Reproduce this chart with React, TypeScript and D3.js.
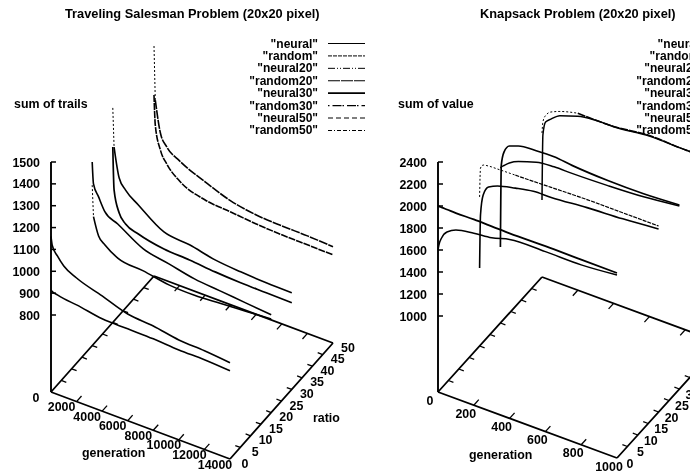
import React from "react";
import * as d3 from "d3";

// ---------- Data: Traveling Salesman Problem ----------
const tspGenerations = [0, 100, 500, 1000, 2000, 4000, 6000, 8000, 10000, 12000, 14000];
const tspNeural = [914, 909, 903, 897, 890, 870, 868, 866, 859, 858, 851];
const tspRandom = [1160, 1120, 1081, 1046, 1013, 975, 936, 925, 905, 899, 888];
const tspNeural20 = [1182, 1040, 960, 930, 892, 877, 857, 853, 860, 868, 876];
const tspRandom20 = [1288, 1190, 1139, 1081, 1048, 978, 953, 928, 917, 906, 895];
const tspNeural30 = [1250, 1056, 959, 920, 896, 871, 865, 854, 848, 846, 844];
const tspRandom30 = [1429, 1252, 1119, 1075, 1029, 949, 934, 909, 898, 892, 890];
const tspNeural50 = [1276, 1141, 1035, 982, 926, 883, 872, 861, 855, 853, 851];
const tspRandom50 = [1500, 1255, 1113, 1060, 1018, 966, 923, 902, 896, 894, 888];

// ---------- Data: Knapsack Problem ----------
const kspGenerations = [0, 5, 20, 50, 100, 200, 300, 400, 600, 800, 1000];
const kspNeural = [1600, 1648, 1721, 1794, 1842, 1873, 1891, 1936, 1945, 1945, 1973];
const kspRandom = [2000, 2000, 1999, 1998, 1996, 1998, 1995, 1991, 1995, 1992, 1991];
const kspNeural20 = [1018, 1503, 1694, 1784, 1824, 1864, 1895, 1900, 1927, 1945, 1973];
const kspRandom20 = [1664, 1930, 1966, 1975, 1978, 1982, 1986, 1991, 2000, 2000, 2000];
const kspNeural30 = [1000, 1748, 1875, 1948, 1978, 1995, 2000, 1982, 1964, 1964, 1982];
const kspRandom30 = [1718, 1730, 1753, 1794, 1837, 1891, 1909, 1909, 1918, 1936, 1973];
const kspNeural50 = [1009, 1603, 1730, 1775, 1836, 1891, 1914, 1915, 1950, 1945, 1960];
const kspRandom50 = [1618, 1721, 1789, 1839, 1874, 1918, 1914, 1918, 1955, 1945, 1964];

const seriesNames = ['"neural"', '"random"', '"neural20"', '"random20"', '"neural30"', '"random30"', '"neural50"', '"random50"'];
const seriesRatios = [0, 0, 20, 20, 30, 30, 50, 50];
const ratioTicks = [0, 5, 10, 15, 20, 25, 30, 35, 40, 45, 50];
const tspGenTicks = [0, 2000, 4000, 6000, 8000, 10000, 12000, 14000];
const kspGenTicks = [0, 200, 400, 600, 800, 1000];
const tspValueTicks = [800, 900, 1000, 1100, 1200, 1300, 1400, 1500];
const kspValueTicks = [1000, 1200, 1400, 1600, 1800, 2000, 2200, 2400];

// ---------- Line styles ----------
const legendDash = ["none", "4 1", "7 2 1 2 1 2", "12 1", "none", "1.5 3 9 1", "5 3", "4 2 1 2 4 2"];
const legendWidth = [1, 1, 1, 1.1, 1.7, 1.1, 1.1, 1.1];
const labelFont = 12.4;

interface PanelProps {
  title: string;
  titleX: number;
  zLabel: string;
  zLabelX: number;
  genLabelX: number;
  genLabelY: number;
  origin: [number, number];
  genEnd: [number, number];
  ratioEnd: [number, number];
  genMax: number;
  valueRef: [number, number];
  valuePx: [number, number];
  generations: number[];
  series: number[][];
  genTicks: number[];
  valueTicks: number[];
  headLen: number[];
  bodyDash: string[];
  bodyWidth: number[];
  legendTextX: number;
  genLabelOffset: [number, number];
  ratioLabelOffset: [number, number];
  ratioLabelX: number;
}

function Panel(p: PanelProps) {
  const gx = d3.scaleLinear().domain([0, p.genMax]).range([0, p.genEnd[0] - p.origin[0]]);
  const gy = d3.scaleLinear().domain([0, p.genMax]).range([0, p.genEnd[1] - p.origin[1]]);
  const rx = d3.scaleLinear().domain([0, 50]).range([0, p.ratioEnd[0] - p.origin[0]]);
  const ry = d3.scaleLinear().domain([0, 50]).range([0, p.ratioEnd[1] - p.origin[1]]);
  const vy = d3.scaleLinear().domain(p.valueRef).range(p.valuePx);
  const X = (g: number, r: number) => p.origin[0] + gx(g) + rx(r);
  const Y = (g: number, r: number) => p.origin[1] + gy(g) + ry(r);
  const Z = (g: number, r: number, v: number) => vy(v) + gy(g) + ry(r);
  const topZ = vy(p.valueTicks[p.valueTicks.length - 1]);
  const genTickLen = p.genMax * 0.028;
  const ratioTick = 2.4;

  const axisPath = (a: [number, number], b: [number, number]) =>
    `M${X(a[0], a[1])},${Y(a[0], a[1])}L${X(b[0], b[1])},${Y(b[0], b[1])}`;
  const base = p.genMax;
  const line = (r: number) =>
    d3
      .line<[number, number]>()
      .x((d) => X(d[0], r))
      .y((d) => Z(d[0], r, d[1]))
      .curve(d3.curveMonotoneX);

  return (
    <g>
      <text x={p.titleX} y={17.5} fontSize={12.8} fontWeight={700}>
        {p.title}
      </text>
      <text x={p.zLabelX} y={108} fontSize={labelFont} fontWeight={700}>
        {p.zLabel}
      </text>
      <text x={p.genLabelX} y={p.genLabelY} fontSize={labelFont} fontWeight={700}>
        generation
      </text>
      <text x={p.ratioLabelX} y={422} fontSize={labelFont} fontWeight={700}>
        ratio
      </text>

      {/* base */}
      <path
        d={axisPath([0, 0], [base, 0]) + axisPath([0, 0], [0, 50]) + axisPath([base, 0], [base, 50]) + axisPath([0, 50], [base, 50])}
        fill="none"
        stroke="#000"
        strokeWidth={1.8}
      />
      <path d={`M${p.origin[0]},${p.origin[1]}L${p.origin[0]},${topZ}`} stroke="#000" strokeWidth={1.9} />
      {p.valueTicks.map((v) => (
        <g key={v}>
          <line x1={p.origin[0]} x2={p.origin[0] + 5} y1={vy(v)} y2={vy(v)} stroke="#000" strokeWidth={1.5} />
          <text x={p.origin[0] - 11} y={vy(v) + 4.5} fontSize={labelFont} fontWeight={700} textAnchor="end">
            {v}
          </text>
        </g>
      ))}

      {/* generation ticks */}
      {p.genTicks.map((g) => (
        <g key={g}>
          {g > 0 && g < p.genMax && (
            <>
              <path d={axisPath([g, 0], [g, ratioTick])} stroke="#000" strokeWidth={1.3} />
              <path d={axisPath([g, 50], [g, 50 - ratioTick])} stroke="#000" strokeWidth={1.3} />
            </>
          )}
          <text
            x={X(g, 0) + p.genLabelOffset[0]}
            y={Y(g, 0) + p.genLabelOffset[1] + 4.5}
            fontSize={labelFont}
            fontWeight={700}
            textAnchor="middle"
          >
            {g}
          </text>
        </g>
      ))}

      {/* ratio ticks */}
      {ratioTicks.map((r) => (
        <g key={r}>
          {r > 0 && r < 50 && (
            <>
              <path d={axisPath([0, r], [genTickLen, r])} stroke="#000" strokeWidth={1.3} />
              <path d={axisPath([base, r], [base - genTickLen, r])} stroke="#000" strokeWidth={1.3} />
            </>
          )}
          <text
            x={X(base, r) + p.ratioLabelOffset[0]}
            y={Y(base, r) + p.ratioLabelOffset[1] + 4.5}
            fontSize={labelFont}
            fontWeight={700}
            textAnchor="middle"
          >
            {r}
          </text>
        </g>
      ))}

      {/* curves */}
      {p.series.map((values, i) => {
        const pts = p.generations.map((g, k) => [g, values[k]] as [number, number]);
        const h = p.headLen[i];
        const gen = line(seriesRatios[i]);
        return (
          <g key={i} fill="none" stroke="#000">
            {h > 0 && <path d={gen(pts.slice(0, h + 1)) || ""} strokeWidth={1} strokeDasharray="2 2" />}
            <path d={gen(pts.slice(h)) || ""} strokeWidth={p.bodyWidth[i]} strokeDasharray={p.bodyDash[i]} />
          </g>
        );
      })}

      {/* legend */}
      {seriesNames.map((name, i) => {
        const y = 43.5 + i * 12.42;
        return (
          <g key={name}>
            <text x={p.legendTextX} y={y + 4} fontSize={12} fontWeight={700} textAnchor="end">
              {name}
            </text>
            <line
              x1={p.legendTextX + 10}
              x2={p.legendTextX + 47}
              y1={y}
              y2={y}
              stroke="#000"
              strokeWidth={legendWidth[i]}
              strokeDasharray={legendDash[i]}
            />
          </g>
        );
      })}
    </g>
  );
}

export default function App() {
  return (
    <svg
      width={690}
      height={472}
      viewBox="0 0 690 472"
      style={{ position: "absolute", left: 0, top: 0, background: "#fff" }}
      fontFamily="'Liberation Sans', Arial, sans-serif"
    >
      <defs>
        <filter id="scan" x="0" y="0" width="100%" height="100%">
          <feGaussianBlur stdDeviation="0.35" />
        </filter>
      </defs>
      <g filter="url(#scan)">
        <Panel
          title="Traveling Salesman Problem (20x20 pixel)"
          titleX={65}
          zLabel="sum of trails"
          zLabelX={14}
          genLabelX={82}
          genLabelY={457}
          origin={[51, 392]}
          genEnd={[230, 459]}
          ratioEnd={[154, 276]}
          genMax={14000}
          valueRef={[800, 1500]}
          valuePx={[315, 162]}
          generations={tspGenerations}
          series={[tspNeural, tspRandom, tspNeural20, tspRandom20, tspNeural30, tspRandom30, tspNeural50, tspRandom50]}
          genTicks={tspGenTicks}
          valueTicks={tspValueTicks}
          headLen={[0, 0, 1, 0, 0, 1, 0, 1]}
          bodyDash={["none", "none", "none", "none", "none", "none", "7 1", "9 1"]}
          bodyWidth={[1.6, 1.6, 1.6, 1.6, 1.7, 1.6, 1.6, 1.6]}
          legendTextX={318}
          genLabelOffset={[-15, 5]}
          ratioLabelOffset={[15, 4]}
          ratioLabelX={313}
        />
        <Panel
          title="Knapsack Problem (20x20 pixel)"
          titleX={480}
          zLabel="sum of value"
          zLabelX={398}
          genLabelX={469}
          genLabelY={459}
          origin={[438, 392]}
          genEnd={[617, 458]}
          ratioEnd={[542, 277]}
          genMax={1000}
          valueRef={[1000, 2400]}
          valuePx={[316, 162]}
          generations={kspGenerations}
          series={[kspNeural, kspRandom, kspNeural20, kspRandom20, kspNeural30, kspRandom30, kspNeural50, kspRandom50]}
          genTicks={kspGenTicks}
          valueTicks={kspValueTicks}
          headLen={[0, 0, 0, 5, 0, 0, 0, 5]}
          bodyDash={["none", "none", "none", "4 1", "none", "none", "none", "8 1"]}
          bodyWidth={[1.5, 1.8, 1.6, 1.2, 1.7, 1.5, 1.5, 1.6]}
          legendTextX={705}
          genLabelOffset={[-8, 8]}
          ratioLabelOffset={[13, 5]}
          ratioLabelX={700}
        />
      </g>
    </svg>
  );
}
